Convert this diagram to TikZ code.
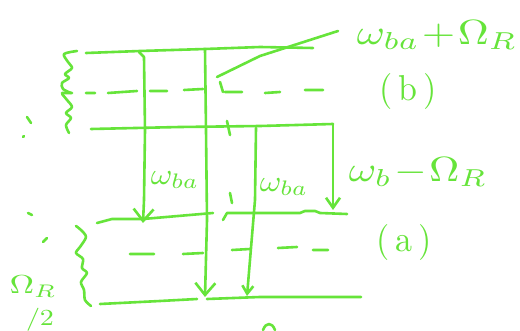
\documentclass[tikz,border=0pt]{standalone}
\usetikzlibrary{arrows.meta}
\definecolor{pen}{RGB}{102,228,58}
\begin{document}
\begin{tikzpicture}[x=1pt,y=-1pt,line width=2.6pt,line cap=round,line join=round,color=pen,
  lbl/.style={text=pen,inner sep=0pt}]
\fill[white] (0,0) rectangle (520,331);
\useasboundingbox (0,0) rectangle (520,331);
% ---------- upper group (b)
\draw (86,53) -- (140,51) -- (205,49) -- (260,47) -- (313,48);
\draw (217,77) -- (260,56) -- (338,31);
\draw[smooth] plot coordinates {(77,51) (64,54) (68,62) (72,68) (65,74) (69,78) (62,83) (63,89) (71,93)};
\draw[smooth] plot coordinates {(62,94) (67,100) (72,107) (66,113) (71,118) (66,125) (69,133)};
\draw (62,93)--(72,93) (86,93)--(95,93) (108,93)--(137,91) (150,91)--(167,91) (184,90)--(203,89)
      (220,82)--(223,92) (225,92)--(242,92) (265,93)--(280,92) (305,90)--(323,90);
\draw (91,129) -- (180,127) -- (260,126) -- (333,124);
\draw (227,121) -- (230,135);
% ---------- verticals
\draw[-{Straight Barb[length=12pt,width=20pt]}] (139,52) -- (144,57) -- (145,130) -- (144,200) -- (143,223);
\draw[-{Straight Barb[length=12pt,width=20pt]}] (205,49) -- (206,130) -- (207,220) -- (205,297);
\draw[-{Straight Barb[length=8pt,width=11pt]}] (256,128) -- (255,200) -- (250,260) -- (247,296);
\draw[-{Straight Barb[length=10pt,width=14pt]}] (333,124) -- (333,210);
% ---------- lower group (a)
\draw (97,223) -- (112,219) -- (143,219) -- (213,213);
\draw (223,220) -- (227,213) -- (300,213) -- (305,211) -- (315,211) -- (320,213) -- (347,214);
\draw (130,254)--(154,254) (183,254)--(203,253) (232,250)--(250,249) (278,248)--(297,247) (313,250)--(328,250);
\draw (100,304) -- (160,301) -- (197,299);
\draw (207,299) -- (260,297) -- (361,297);
\draw[smooth] plot coordinates {(76,226) (81,230) (86,237) (80,247) (76,253) (83,259) (82,268) (87,273) (81,282) (84,290) (85,300) (91,306)};
% ---------- stray marks
\draw (27,117) -- (31,123);
\draw (23,137) -- (24,136);
\draw (28,213) -- (32,215);
\draw (43,242) -- (47,238);
\draw (230,193) -- (232,203);
\draw (263,330) .. controls (266,322) and (272,322) .. (275,330);
% ---------- labels
\node[lbl] (l1) at (437,35) {\scalebox{4.3}[3.5]{$\omega_{ba}\!+\!\Omega_R$}};
\node[lbl] (l2) at (408,92) {\scalebox{3.4}[3.6]{(\,b\,)}};
\node[lbl] (l3) at (418,172) {\scalebox{4.2}[3.5]{$\omega_b\!-\!\Omega_R$}};
\node[lbl] (l4) at (404,243) {\scalebox{3.4}[3.6]{(\,a\,)}};
\node[lbl] (l5) at (175,180) {\scalebox{3.3}[3]{$\omega_{ba}$}};
\node[lbl] (l6) at (284,187) {\scalebox{3.3}[3]{$\omega_{ba}$}};
\node[lbl] (l7) at (33,287) {\scalebox{3.4}[2.6]{$\Omega_R$}};
\node[lbl] (l8) at (40,320) {\scalebox{2.8}[2.3]{$/2$}};
\end{tikzpicture}
\end{document}
